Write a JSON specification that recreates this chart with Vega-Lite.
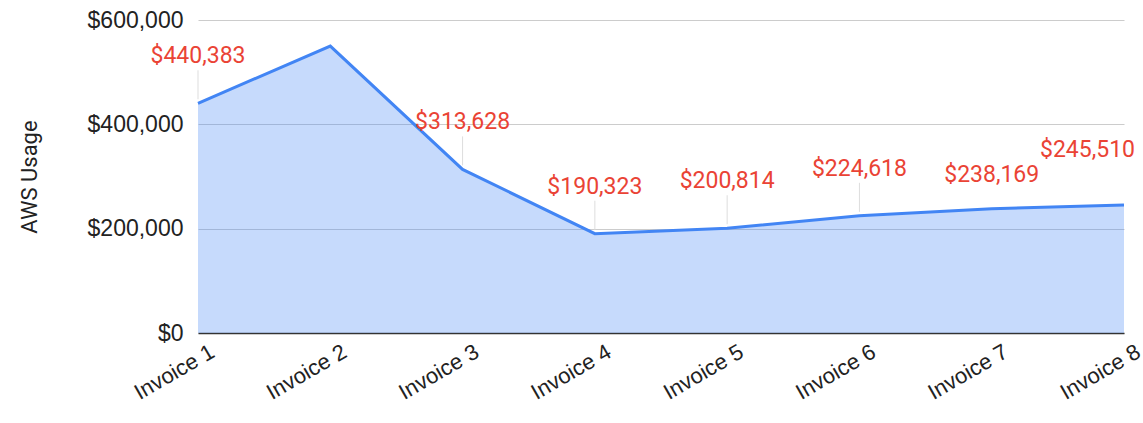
{
  "$schema": "https://vega.github.io/schema/vega-lite/v6.json",
  "autosize": {"type": "none"},
  "width": 926,
  "height": 313,
  "padding": {"left": 198, "top": 20, "right": 19, "bottom": 90},
  "background": "white",
  "config": {"view": {"stroke": null}},
  "data": {"values": [
    {"invoice": "Invoice 1", "usage": 440383},
    {"invoice": "Invoice 2", "usage": 550000},
    {"invoice": "Invoice 3", "usage": 313628},
    {"invoice": "Invoice 4", "usage": 190323},
    {"invoice": "Invoice 5", "usage": 200814},
    {"invoice": "Invoice 6", "usage": 224618},
    {"invoice": "Invoice 7", "usage": 238169},
    {"invoice": "Invoice 8", "usage": 245510}
  ]},
  "encoding": {
    "x": {"field": "invoice", "type": "ordinal", "sort": null,
      "scale": {"type": "point", "padding": 0},
      "axis": {"title": null, "labelAngle": -30, "labelAlign": "right", "labelBaseline": "top",
        "labelFont": "Liberation Sans", "labelFontSize": 22, "labelColor": "#222222",
        "labelPadding": 8, "labelOffset": 9, "ticks": false, "domainColor": "#333333", "domainWidth": 1.5,
        "grid": false}},
    "y": {"field": "usage", "type": "quantitative",
      "scale": {"domain": [0, 600000], "nice": false},
      "axis": {"title": "AWS Usage", "titleFont": "Roboto", "titleFontSize": 22, "titleFontWeight": "normal",
        "titleColor": "#222222", "titlePadding": 46,
        "values": [0, 200000, 400000, 600000], "format": "$,.0f",
        "labelFont": "Liberation Sans", "labelFontSize": 23, "labelColor": "#222222", "labelPadding": 15,
        "ticks": false, "domain": false, "gridColor": "#cccccc", "gridWidth": 1.2}}
  },
  "layer": [
    {"mark": {"type": "area", "color": "#4285f4", "opacity": 0.3}},
    {"mark": {"type": "line", "color": "#4285f4", "strokeWidth": 3}},
    {"transform": [{"filter": {"field": "invoice", "oneOf": ["Invoice 1", "Invoice 3", "Invoice 4", "Invoice 5", "Invoice 6"]}}],
     "mark": {"type": "rule", "color": "#dddddd", "strokeWidth": 1, "yOffset": -4, "y2Offset": -33},
     "encoding": {"y2": {"field": "usage"}}},
    {"transform": [{"filter": {"field": "invoice", "oneOf": ["Invoice 1", "Invoice 3", "Invoice 4", "Invoice 5", "Invoice 6"]}}],
     "mark": {"type": "text", "font": "Roboto", "fontSize": 23, "color": "#ea4335", "dy": -47, "baseline": "middle"},
     "encoding": {"text": {"field": "usage", "type": "quantitative", "format": "$,.0f"}}},
    {"transform": [{"filter": {"field": "invoice", "equal": "Invoice 7"}}],
     "mark": {"type": "text", "font": "Roboto", "fontSize": 23, "color": "#ea4335", "dy": -34, "baseline": "middle"},
     "encoding": {"text": {"field": "usage", "type": "quantitative", "format": "$,.0f"}}},
    {"transform": [{"filter": {"field": "invoice", "equal": "Invoice 8"}}],
     "mark": {"type": "text", "font": "Roboto", "fontSize": 23, "color": "#ea4335", "dy": -55, "dx": 11, "align": "right", "baseline": "middle"},
     "encoding": {"text": {"field": "usage", "type": "quantitative", "format": "$,.0f"}}}
  ]
}
